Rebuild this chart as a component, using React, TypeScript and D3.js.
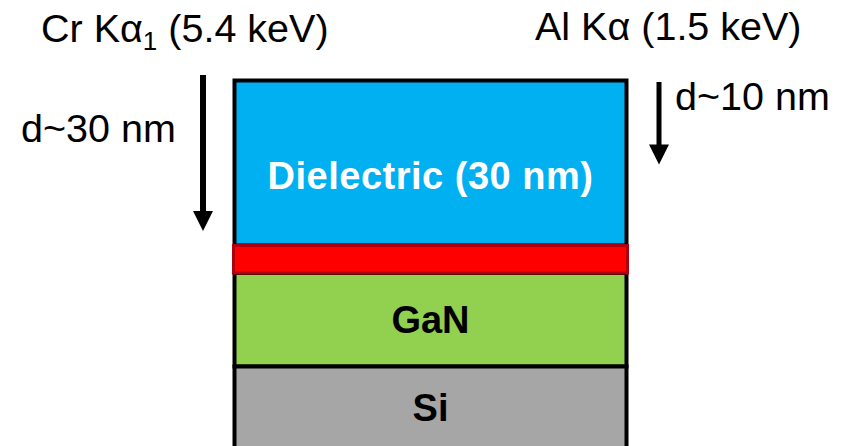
import * as React from 'react';
import * as d3 from 'd3';

// layer stack, top to bottom (schematic thickness, arbitrary units)
const layerNames = ['Dielectric', 'Interlayer', 'GaN', 'Si'];
const layerLabels = ['Dielectric (30 nm)', '', 'GaN', 'Si'];
const layerThickness = [16.5, 2.75, 9.35, 8.2];

// x-ray sources and their probing depth (nm)
const sourceNames = ['Cr Kα', 'Al Kα'];
const sourceSubs = ['1', ''];
const sourceEnergies = [5.4, 1.5];
const probeDepths = [30, 10];

const colors: Record<string, string> = {
  Dielectric: '#00B0F0',
  Interlayer: '#FF0000',
  GaN: '#92D050',
  Si: '#A6A6A6'
};

const W = 851;
const H = 446;
const font = '"Liberation Sans", Arial, sans-serif';

export default function App() {
  const ends = d3.cumsum(layerThickness);
  const starts = [0, ...Array.from(ends).slice(0, -1)];
  const y = d3.scaleLinear().domain([0, 10]).range([80.5, 180.5]);
  const x = d3.scaleLinear().domain([0, 1]).range([234.5, 626.5]);

  // arrow length vs. depth (schematic, compressive)
  const depth = d3.scalePow().exponent(0.58).domain([0, 30]).range([0, 156]);

  const order = [0, 2, 3, 1]; // draw the thin interlayer last so its edge sits on top

  const arrows = [
    {x: 203, y0: 75, w: 6, textX: 21, textY: 142},
    {x: 659, y0: 82, w: 5, textX: 675, textY: 110}
  ];
  const titles = [
    {x: 41, y: 42},
    {x: 535, y: 40}
  ];
  const fs = 39.5;

  return (
    <svg width={W} height={H} style={{position: 'absolute', left: 0, top: 0, background: '#fff'}}>
      {order.map(i => {
        const red = layerNames[i] === 'Interlayer';
        return (
          <rect
            key={layerNames[i]}
            x={red ? x(0) - 1 : x(0)}
            y={y(starts[i])}
            width={red ? x(1) - x(0) + 2 : x(1) - x(0)}
            height={y(ends[i]) - y(starts[i])}
            fill={colors[layerNames[i]]}
            stroke={red ? '#B00010' : '#000'}
            strokeWidth={red ? 3 : 4}
          />
        );
      })}
      {layerLabels.map((lab, i) =>
        lab ? (
          <text
            key={lab}
            x={(x(0) + x(1)) / 2}
            y={(y(starts[i]) + y(ends[i])) / 2 + (i === 0 ? 12 : 0)}
            dy="0.36em"
            textAnchor="middle"
            fontFamily={font}
            fontWeight="bold"
            fontSize={38}
            letterSpacing={i === 0 ? 0.5 : 0}
            fill={i === 0 ? '#fff' : '#000'}
          >
            {lab}
          </text>
        ) : null
      )}
      {sourceNames.map((s, i) => (
        <text key={s} x={titles[i].x} y={titles[i].y} fontFamily={font} fontSize={fs} fill="#000">
          {s}
          {sourceSubs[i] ? (
            <tspan fontSize={26} dy={8}>
              {sourceSubs[i]}
            </tspan>
          ) : null}
          <tspan dy={sourceSubs[i] ? -8 : 0}>{` (${sourceEnergies[i]} keV)`}</tspan>
        </text>
      ))}
      {probeDepths.map((d, i) => {
        const a = arrows[i];
        const y1 = a.y0 + depth(d);
        const head = 20;
        return (
          <g key={i}>
            <line x1={a.x} x2={a.x} y1={a.y0} y2={y1 - head + 2} stroke="#000" strokeWidth={a.w} />
            <path d={`M${a.x - 10},${y1 - head} L${a.x + 10},${y1 - head} L${a.x},${y1} Z`} fill="#000" />
            <text x={a.textX} y={a.textY} fontFamily={font} fontSize={fs} fill="#000">
              {`d~${d} nm`}
            </text>
          </g>
        );
      })}
    </svg>
  );
}
